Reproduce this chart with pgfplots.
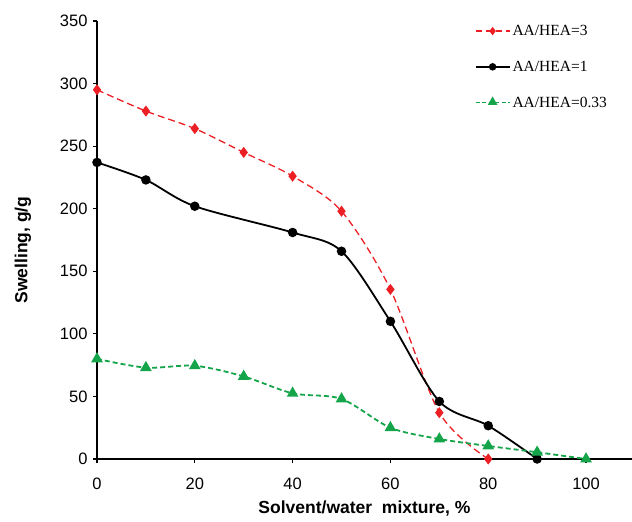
\documentclass[border=0pt]{standalone}
\usepackage{fontspec}
\setmainfont{Liberation Sans}
\newfontfamily\legfont{Liberation Serif}
\usepackage{pgfplots}
\pgfplotsset{compat=1.18}
\definecolor{cred}{RGB}{236,32,36}
\definecolor{cgreen}{RGB}{20,165,75}
\begin{document}
\begin{tikzpicture}[x=1pt,y=1pt]
\begin{axis}[
  at={(0,0)}, anchor=origin,
  scale only axis, width=535pt, height=438pt,
  xmin=0, xmax=109.4, ymin=0, ymax=350,
  axis x line*=bottom, axis y line*=left,
  axis line style={line width=1.6pt, -},
  xtick={0,20,40,60,80,100}, ytick={0,50,...,350},
  tick style={line width=1.2pt, black},
  major tick length=4pt,
  tick align=outside,
  /pgf/number format/assume math mode=true,
  ticklabel style={font=\fontsize{16.5}{18}\selectfont},
  xticklabel style={yshift=-11pt},
  yticklabel style={xshift=-2pt},
  xlabel={\textbf{Solvent/water\ \ mixture, \%}},
  ylabel={\textbf{Swelling, g/g}},
  label style={font=\fontsize{17.5}{19}\selectfont},
  xlabel style={yshift=-5pt},
  ylabel style={yshift=22pt, xshift=-10pt},
  legend style={at={(0.70,1.0)}, anchor=north west, draw=none, fill=none,
    font=\legfont\fontsize{15.5}{17}\selectfont, row sep=20pt},
  legend cell align=left,
]
\addplot[cred, line width=1.3pt, dash pattern=on 7pt off 4pt, smooth, mark=diamond*, mark size=4.5pt, mark options={solid, fill=cred},
  legend image code/.code={\draw[cred, line width=1.3pt, dash pattern=on 6pt off 4pt] (0pt,0pt) -- (34pt,0pt);
    \draw[cred, mark=diamond*, mark size=3.2pt, mark options={solid, fill=cred}] plot coordinates {(17pt,0pt)};}]
coordinates {(0,295) (10,278) (20,264) (30,245) (40,226) (50,198) (60,135.5) (70,37) (80,0)};
\addlegendentry{AA/HEA=3}
\addplot[black, line width=1.8pt, smooth, mark=*, mark size=3.8pt, mark options={solid},
  legend image code/.code={\draw[black, line width=1.8pt] (0pt,0pt) -- (34pt,0pt);
    \draw[black, mark=*, mark size=2.8pt] plot coordinates {(17pt,0pt)};}]
coordinates {(0,237) (10,223) (20,202) (40,181) (50,166) (60,110) (70,46) (80,26.6) (90,0)};
\addlegendentry{AA/HEA=1}
\addplot[cgreen, line width=1.8pt, dash pattern=on 5pt off 3pt, smooth, mark=triangle*, mark size=5pt, mark options={solid, fill=cgreen},
  legend image code/.code={\draw[cgreen, line width=1.6pt, dash pattern=on 4pt off 2.5pt] (0pt,0pt) -- (34pt,0pt);
    \draw[cgreen, mark=triangle*, mark size=3.8pt, mark options={solid, fill=cgreen}] plot coordinates {(17pt,0.5pt)};}]
coordinates {(0,80) (10,73) (20,74.5) (30,66) (40,52.5) (50,48) (60,25) (70,16) (80,10.4) (90,5.4) (100,0)};
\addlegendentry{AA/HEA=0.33}
\end{axis}
\pgfresetboundingbox
\path[use as bounding box] (-97pt,-63pt) rectangle (535pt,459pt);
\end{tikzpicture}
\end{document}
